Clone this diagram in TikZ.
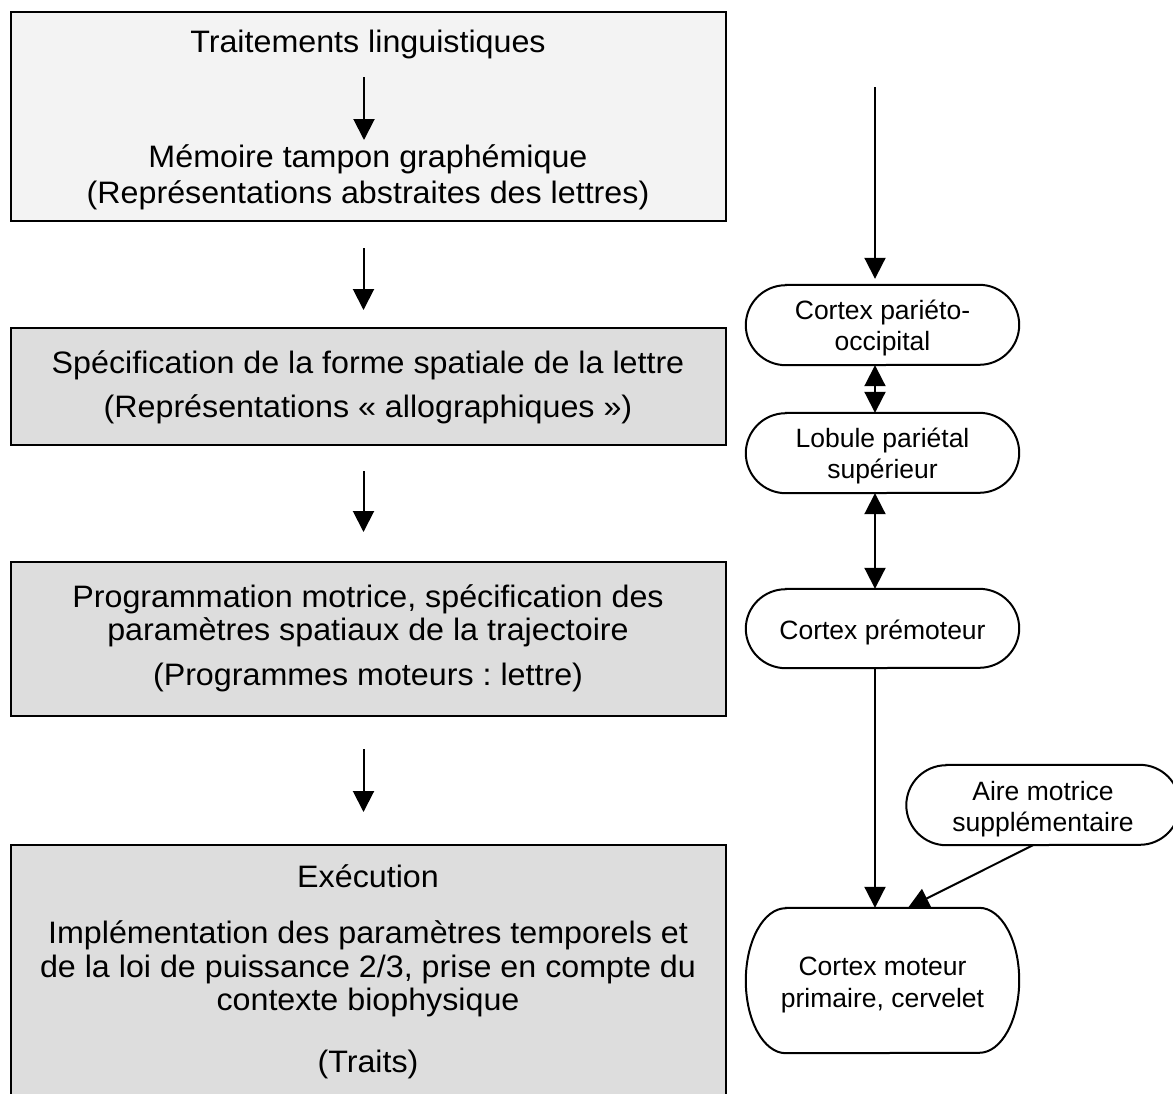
\documentclass[tikz,border=0pt]{standalone}
\usepackage{fontspec}
\setmainfont{Liberation Sans}[FakeStretch=1.04]
\newfontfamily\nodefont{Liberation Sans}
\usetikzlibrary{arrows.meta}
\definecolor{boxlight}{RGB}{243,243,243}
\definecolor{boxgray}{RGB}{221,221,221}
\tikzset{
  stagebox/.style={draw=black, line width=2pt, inner sep=0pt, minimum width=715pt},
  ltext/.style={anchor=base, inner sep=0pt, font=\fontsize{31}{36}\selectfont},
  rtext/.style={anchor=base, inner sep=0pt, font=\nodefont\fontsize{26.5}{31}\selectfont},
  termnode/.style={inner sep=0pt, minimum width=273pt},
  termline/.style={line width=2pt, fill=white},
  arr/.style={line width=2pt, -{Triangle[length=21pt,width=21pt]}},
  darr/.style={line width=2pt, {Triangle[length=21pt,width=21pt]}-{Triangle[length=21pt,width=21pt]}}
}
\newcommand\termshape[2]{%
  \draw[termline] ([xshift=40pt]#1.north west) -- ([xshift=-40pt]#1.north east)
    arc[start angle=90, end angle=-90, x radius=40pt, y radius=#2]
    -- ([xshift=40pt]#1.south west)
    arc[start angle=270, end angle=90, x radius=40pt, y radius=#2] -- cycle;}
\begin{document}
\frenchspacing
\begin{tikzpicture}[x=1pt,y=1pt]
\useasboundingbox (0,0) rectangle (1173,-1093);
\clip (0,0) rectangle (1173,-1093);

% left column boxes
\node[stagebox, fill=boxlight, minimum height=209pt] (b1) at (368.5,-116.5) {};
\node[stagebox, fill=boxgray, minimum height=117pt] (b2) at (368.5,-386.5) {};
\node[stagebox, fill=boxgray, minimum height=154pt] (b3) at (368.5,-639) {};
\node[stagebox, fill=boxgray, minimum height=260pt] (b4) at (368.5,-975) {};

% box 1 texts
\node[ltext] (t11) at (368,-52) {Traitements linguistiques};
\node[ltext] (t12) at (368,-167) {Mémoire tampon graphémique};
\node[ltext] (t13) at (368,-203) {(Représentations abstraites des lettres)};
% box 2 texts
\node[ltext] (t21) at (368,-373) {Spécification de la forme spatiale de la lettre};
\node[ltext] (t22) at (368,-417) {(Représentations « allographiques »)};
% box 3 texts
\node[ltext] (t31) at (368,-607) {Programmation motrice, spécification des};
\node[ltext] (t32) at (368,-640) {paramètres spatiaux de la trajectoire};
\node[ltext] (t33) at (368,-685) {(Programmes moteurs : lettre)};
% box 4 texts
\node[ltext] (t41) at (368,-887) {Exécution};
\node[ltext] (t42) at (368,-943) {Implémentation des paramètres temporels et};
\node[ltext] (t43) at (368,-977) {de la loi de puissance 2/3, prise en compte du};
\node[ltext] (t44) at (368,-1010) {contexte biophysique};
\node[ltext] (t45) at (368,-1072) {(Traits)};

% left arrows
\draw[arr] ([xshift=-4pt,yshift=-25pt]t11.base) -- ([xshift=-4pt,yshift=27pt]t12.base);
\draw[arr] ([xshift=-5pt,yshift=-26pt]b1.south) -- ([xshift=-5pt,yshift=17pt]b2.north);
\draw[arr] ([xshift=-5pt,yshift=-25pt]b2.south) -- ([xshift=-5pt,yshift=29pt]b3.north);
\draw[arr] ([xshift=-5pt,yshift=-32pt]b3.south) -- ([xshift=-5pt,yshift=32pt]b4.north);

% right column nodes
\node[termnode, minimum height=80pt] (n1) at (882.5,-325) {};
\node[termnode, minimum height=80pt] (n2) at (882.5,-453) {};
\node[termnode, minimum height=79pt] (n3) at (882.5,-628.5) {};
\node[termnode, minimum height=145pt] (n4) at (882.5,-980.5) {};
\node[termnode, minimum height=80pt] (n5) at (1043,-805) {};
\termshape{n1}{40pt}
\termshape{n2}{40pt}
\termshape{n3}{39.5pt}
\termshape{n4}{72.5pt}
\termshape{n5}{40pt}

\node[rtext] (r11) at (882.5,-319) {Cortex pariéto-};
\node[rtext] (r12) at (882.5,-350) {occipital};
\node[rtext] (r21) at (882.5,-447) {Lobule pariétal};
\node[rtext] (r22) at (882.5,-478) {supérieur};
\node[rtext] (r31) at (882.5,-639) {Cortex prémoteur};
\node[rtext] (r51) at (1043,-800) {Aire motrice};
\node[rtext] (r52) at (1043,-831) {supplémentaire};
\node[rtext] (r41) at (882.5,-975) {Cortex moteur};
\node[rtext] (r42) at (882.5,-1007) {primaire, cervelet};

% right arrows
\coordinate (src) at (875,-87);
\draw[arr] (src) -- ([xshift=-7.5pt,yshift=6pt]n1.north);
\draw[darr] ([xshift=-7.5pt]n1.south) -- ([xshift=-7.5pt]n2.north);
\draw[darr] ([xshift=-7.5pt]n2.south) -- ([xshift=-7.5pt]n3.north);
\draw[arr] ([xshift=-7.5pt]n3.south) -- ([xshift=-7.5pt]n4.north);
\draw[arr] ([xshift=-10pt]n5.south) -- ([xshift=25.5pt]n4.north);
\end{tikzpicture}
\end{document}
